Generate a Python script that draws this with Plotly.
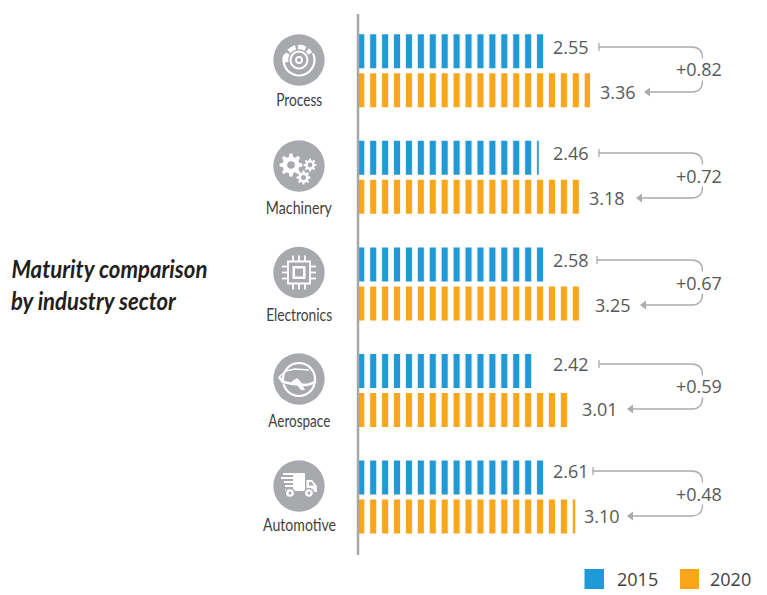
import json
import math
import plotly.graph_objects as go

W, H = 767, 595

sectors = ["Process", "Machinery", "Electronics", "Aerospace", "Automotive"]
values_2015 = [2.55, 2.46, 2.58, 2.42, 2.61]
values_2020 = [3.36, 3.18, 3.25, 3.01, 3.10]
deltas = ["+0.82", "+0.72", "+0.67", "+0.59", "+0.48"]
years = ["2015", "2020"]
title_lines = ["Maturity comparison", "by industry sector"]

BLUE, ORANGE = "#1f9ad6", "#faa61a"
GREY, LINE, TXT = "#a7a9ac", "#a9abae", "#58595b"
NARROW = "Lato"
BODY = "Open Sans"

PLOT_L, PLOT_T, PLOT_B = 355.3, 14, 555
K, V_REF, P_REF, BAR_L = 57.0, 2.42, 536.5, 359.0
v_px = lambda v: P_REF + K * (v - V_REF)
px_v = lambda p: V_REF + (p - P_REF) / K
ORIGIN = px_v(BAR_L)

X = lambda p: p / W
Y = lambda p: 1 - p / H


def pt(x, y):
    return f"{X(x):.5f},{Y(y):.5f}"


shapes = []


def path(d, fill=None, color=None, width=0):
    s = dict(type="path", path=d, xref="paper", yref="paper", layer="above",
             line=dict(color=color or "rgba(0,0,0,0)", width=width))
    if fill:
        s["fillcolor"] = fill
    shapes.append(s)


def circle(cx, cy, r, fill=None, color=None, width=0):
    s = dict(type="circle", xref="paper", yref="paper", layer="above",
             x0=X(cx - r), x1=X(cx + r), y0=Y(cy + r), y1=Y(cy - r),
             line=dict(color=color or "rgba(0,0,0,0)", width=width))
    if fill:
        s["fillcolor"] = fill
    shapes.append(s)


def rect(x0, y0, x1, y1, fill, color=None, width=0):
    shapes.append(dict(type="rect", xref="paper", yref="paper", layer="above",
                       x0=X(x0), x1=X(x1), y0=Y(y1), y1=Y(y0), fillcolor=fill,
                       line=dict(color=color or "rgba(0,0,0,0)", width=width)))


def poly(points, **kw):
    path("M" + "L".join(pt(*p) for p in points) + "Z", **kw)


def polyline(points, **kw):
    path("M" + "L".join(pt(*p) for p in points), **kw)


def arc(cx, cy, r, a0, a1, color="white", width=2):
    n = max(4, int(abs(a1 - a0) / 12))
    polyline([(cx + r * math.cos(math.radians(a0 + (a1 - a0) * i / n)),
               cy + r * math.sin(math.radians(a0 + (a1 - a0) * i / n))) for i in range(n + 1)],
             color=color, width=width)


def gear(cx, cy, ro, ri, teeth, hole):
    pts = []
    for i in range(teeth):
        a = 2 * math.pi * i / teeth
        st = 2 * math.pi / teeth
        for off, r in ((-0.30, ri), (-0.17, ro), (0.17, ro), (0.30, ri)):
            pts.append((cx + r * math.cos(a + off * st), cy + r * math.sin(a + off * st)))
    poly(pts, fill="white")
    circle(cx, cy, hole, fill=GREY)


# axis line
shapes.append(dict(type="line", xref="paper", yref="paper", x0=X(358), x1=X(358),
                   y0=Y(555), y1=Y(14), line=dict(color="#a5a7aa", width=2.5), layer="above"))

# sector badges
centers = [(299, 60), (299, 166), (299, 272.5), (299, 379), (299, 486)]
for c in centers:
    circle(*c, 25.7, fill=GREY)

# process: disc
cx, cy = centers[0]
arc(cx, cy, 15.5, -25, 200, width=2.2)
for a0, a1 in [(-190, -150), (-140, -105), (-95, -60), (-50, -30)]:
    arc(cx, cy, 13, a0, a1, width=4.5)
circle(cx, cy, 8.5, fill=GREY, color="white", width=2)
circle(cx, cy, 3, color="white", width=1.8)

# machinery: gears
cx, cy = centers[1]
gear(cx - 8, cy - 1, 11.5, 8.6, 8, 3.8)
gear(cx + 11, cy - 1, 6.5, 4.8, 8, 2.4)
gear(cx + 4.5, cy + 11.5, 7, 5.2, 8, 2.5)

# electronics: chip
cx, cy = centers[2]
rect(cx - 11, cy - 11, cx + 11, cy + 11, "rgba(0,0,0,0)", "white", 1.8)
rect(cx - 6.5, cy - 6.5, cx + 6.5, cy + 6.5, "white")
rect(cx - 4, cy - 4, cx + 4, cy + 4, GREY)
for o in (-6, 0, 6):
    polyline([(cx + o, cy - 17), (cx + o, cy - 11)], color="white", width=1.8)
    polyline([(cx + o, cy + 11), (cx + o, cy + 17)], color="white", width=1.8)
    polyline([(cx - 17, cy + o), (cx - 11, cy + o)], color="white", width=1.8)
    polyline([(cx + 11, cy + o), (cx + 17, cy + o)], color="white", width=1.8)

# aerospace: globe with plane orbit
cx, cy = centers[3]
arc(cx, cy, 16, 170, 375, width=2.2)
arc(cx, cy + 1, 16, 15, 165, width=2.2)
polyline([(cx - 20, cy - 2), (cx - 16, cy + 3), (cx - 6, cy + 5), (cx + 8, cy + 6), (cx + 17, cy + 3)],
         color="white", width=2.6)
polyline([(cx - 20, cy - 2), (cx - 13, cy - 8), (cx - 4, cy - 10), (cx + 10, cy - 9)],
         color="white", width=1.6)
poly([(cx - 8, cy + 3), (cx - 2, cy - 1), (cx + 2, cy + 3), (cx + 6, cy + 11), (cx + 2, cy + 11), (cx - 2, cy + 6)],
     fill="white")

# automotive: truck
cx, cy = centers[4]
rect(cx - 6, cy - 13, cx + 6, cy + 5, "white")
rect(cx - 16, cy - 13, cx - 6, cy - 11, "white")
rect(cx - 18, cy - 9, cx - 6, cy - 7, "white")
rect(cx - 15, cy - 5, cx - 6, cy - 3, "white")
rect(cx - 14, cy - 1, cx - 6, cy + 1, "white")
rect(cx - 14, cy + 3, cx - 6, cy + 5, "white")
poly([(cx + 7.5, cy - 6), (cx + 13, cy - 6), (cx + 18, cy), (cx + 18, cy + 6), (cx + 7.5, cy + 6)], fill="white")
poly([(cx + 10, cy - 4), (cx + 12.5, cy - 4), (cx + 15, cy - 0.5), (cx + 10, cy - 0.5)], fill=GREY)
for wx in (-9, 10):
    circle(cx + wx, cy + 7, 4.6, fill="white", color=GREY, width=1.5)
    circle(cx + wx, cy + 7, 1.5, fill=GREY)

# connectors
row_y = [(47, 92), (153, 198), (260, 305), (364, 409), (471, 516)]
tick_x = [599, 599, 597, 599, 593]
arrow_x = [644, 636, 640, 627, 627]
label_x_2020 = [598, 587, 593, 580, 582]
delta_y = [69, 176, 283, 386, 494]
LABEL_X_2015 = 551
RIGHT = 702.5
for (y0, y1), tx, ax in zip(row_y, tick_x, arrow_x):
    mid = (y0 + y1) / 2
    path(f"M{pt(tx, y0)}L{pt(RIGHT - 11, y0)}Q{pt(RIGHT, y0)} {pt(RIGHT, y0 + 11)}L{pt(RIGHT, mid - 11)}",
         color=LINE, width=1.3)
    path(f"M{pt(RIGHT, mid + 11)}L{pt(RIGHT, y1 - 11)}Q{pt(RIGHT, y1)} {pt(RIGHT - 11, y1)}L{pt(ax + 4, y1)}",
         color=LINE, width=1.3)
    polyline([(tx, y0 - 4), (tx, y0 + 4)], color=LINE, width=1.3)
    poly([(ax, y1), (ax + 6, y1 - 4.5), (ax + 6, y1 + 4.5)], fill=LINE)

# legend swatches
rect(584.5, 569, 604, 589, BLUE)
rect(680, 569, 699, 589, ORANGE)

annotations = []


def label(text, x, y, size, font=BODY, color=TXT, anchor="center", **kw):
    f = dict(family=font, size=size, color=color)
    annotations.append(dict(text=text, x=X(x), y=Y(y), xref="paper", yref="paper",
                            xanchor=anchor, yanchor="middle", showarrow=False,
                            font=f, **kw))


for name, (cx, cy), ly in zip(sectors, centers, [99, 207, 314, 420, 524]):
    label(name, cx, ly, 18, NARROW, "#414042")

for i, (a, b) in enumerate(zip(values_2015, values_2020)):
    y0, y1 = row_y[i]
    label(f"{a:.2f}", LABEL_X_2015, y0, 18, anchor="left")
    label(f"{b:.2f}", label_x_2020[i], y1, 18, anchor="left")
    label(deltas[i], 699, delta_y[i], 18)

label(f"<b><i>{title_lines[0]}</i></b>", 109, 268, 25, NARROW, "#231f20")
label(f"<b><i>{title_lines[1]}</i></b>", 93.5, 300, 25, NARROW, "#231f20")
label(years[0], 615, 579, 18, color="#414042", anchor="left")
label(years[1], 708, 579, 18, color="#414042", anchor="left")


def bars(name, vals, color):
    return go.Bar(name=name, y=sectors, x=[v - ORIGIN for v in vals], base=ORIGIN, orientation="h",
                  customdata=vals, hovertemplate="%{y} %{customdata}<extra>" + name + "</extra>",
                  marker=dict(color=color, line=dict(width=0),
                              pattern=dict(shape="|", size=11.92, solidity=0.52,
                                           fgcolor=color, bgcolor="white", fillmode="replace")))


fig = go.Figure([bars(years[0], values_2015, BLUE), bars(years[1], values_2020, ORANGE)])
PITCH = 106.6
ROW0 = 70.7
fig.update_layout(
    width=W, height=H, autosize=False, showlegend=False,
    margin=dict(l=0, r=0, t=0, b=0), paper_bgcolor="white", plot_bgcolor="white",
    barmode="group", bargap=0.268, bargroupgap=0.128,
    xaxis=dict(domain=[X(PLOT_L), 1], range=[px_v(PLOT_L), px_v(W)], visible=False),
    yaxis=dict(domain=[Y(PLOT_B), Y(PLOT_T)], type="category", categoryorder="array", categoryarray=sectors,
               range=[(PLOT_B - ROW0) / PITCH, (PLOT_T - ROW0) / PITCH], visible=False),
    shapes=shapes, annotations=annotations,
)

# the reference uses a condensed face: squeeze these labels to their measured widths
condensed_widths = {"Process": 46, "Machinery": 66, "Electronics": 66, "Aerospace": 62, "Automotive": 73,
                    title_lines[0]: 196, title_lines[1]: 165}
post = """document.body.style.margin='0';
var widths = %s;
document.querySelectorAll('text.annotation-text').forEach(function(t){
  var w = widths[t.textContent];
  if (w) { t.setAttribute('textLength', w); t.setAttribute('lengthAdjust', 'spacingAndGlyphs'); }
});""" % json.dumps(condensed_widths)
fig.write_html("out.html", post_script=post, config=dict(displayModeBar=False))
